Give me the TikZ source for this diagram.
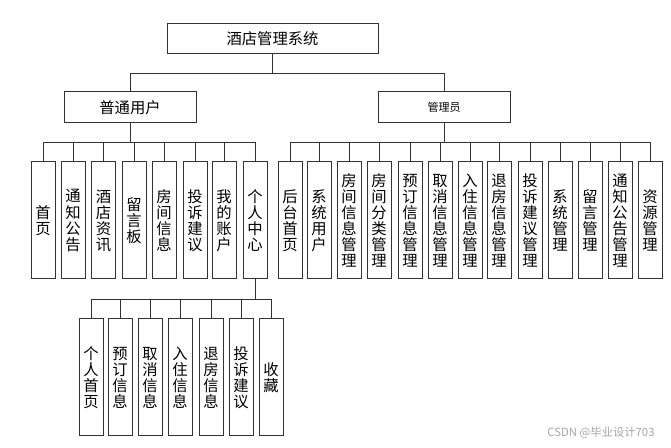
\documentclass[tikz,border=0pt]{standalone}
\usepackage{fontspec}
\newfontfamily\cjk{Noto Sans CJK SC}
\tikzset{
	box/.style={draw=black!80, line width=0.75pt, inner sep=0pt, align=center, font=\cjk\fontsize{11.5}{12}\selectfont},
	wide/.style={box, minimum width=99pt, minimum height=23.25pt},
	tall/.style={box, minimum width=18pt, minimum height=87.75pt},
	link/.style={draw=black!80, line width=0.75pt}
}

\begin{document}
\begin{tikzpicture}[x=0.75pt, y=-0.75pt]
		%%%%% START %%%%%
		\useasboundingbox[fill=white] (0, 0) rectangle (671, 448);
		
		\node[box, minimum width=158.25pt, minimum height=22.5pt] (root) at (272.5, 39) {酒店管理系统};
		
		\node[wide] (user) at (130, 107.5) {普通用户};
		\node[wide, font=\cjk\fontsize{8.25}{9}\selectfont] (admin) at (444, 107.5) {管理员};
		
		\draw[link] (root.south) -- ++(0, 19) -| (user.north);
		\draw[link] (root.south) -- ++(0, 19) -| (admin.north);
		
		\node[tall] (u1) at (43, 220.5) {首\\页};
		\node[tall] (u2) at (73, 220.5) {通\\知\\公\\告};
		\node[tall] (u3) at (103.5, 220.5) {酒\\店\\资\\讯};
		\node[tall] (u4) at (134, 220.5) {留\\言\\板};
		\node[tall] (u5) at (164, 220.5) {房\\间\\信\\息};
		\node[tall] (u6) at (195, 220.5) {投\\诉\\建\\议};
		\node[tall] (u7) at (224, 220.5) {我\\的\\账\\户};
		\node[tall] (u8) at (255, 220.5) {个\\人\\中\\心};
		
		\draw[link] (user.south) -- ++(0, 19) -| (u1.north);
		\draw[link] (user.south) -- ++(0, 19) -| (u2.north);
		\draw[link] (user.south) -- ++(0, 19) -| (u3.north);
		\draw[link] (user.south) -- ++(0, 19) -| (u4.north);
		\draw[link] (user.south) -- ++(0, 19) -| (u5.north);
		\draw[link] (user.south) -- ++(0, 19) -| (u6.north);
		\draw[link] (user.south) -- ++(0, 19) -| (u7.north);
		\draw[link] (user.south) -- ++(0, 19) -| (u8.north);
		
		\node[tall] (a1) at (290, 220.5) {后\\台\\首\\页};
		\node[tall] (a2) at (319, 220.5) {系\\统\\用\\户};
		\node[tall] (a3) at (349, 220.5) {房\\间\\信\\息\\管\\理};
		\node[tall] (a4) at (379, 220.5) {房\\间\\分\\类\\管\\理};
		\node[tall] (a5) at (410, 220.5) {预\\订\\信\\息\\管\\理};
		\node[tall] (a6) at (440, 220.5) {取\\消\\信\\息\\管\\理};
		\node[tall] (a7) at (470, 220.5) {入\\住\\信\\息\\管\\理};
		\node[tall] (a8) at (499, 220.5) {退\\房\\信\\息\\管\\理};
		\node[tall] (a9) at (530, 220.5) {投\\诉\\建\\议\\管\\理};
		\node[tall] (a10) at (560, 220.5) {系\\统\\管\\理};
		\node[tall] (a11) at (590, 220.5) {留\\言\\管\\理};
		\node[tall] (a12) at (620, 220.5) {通\\知\\公\\告\\管\\理};
		\node[tall] (a13) at (650, 220.5) {资\\源\\管\\理};
		
		\draw[link] (admin.south) -- ++(0, 19) -| (a1.north);
		\draw[link] (admin.south) -- ++(0, 19) -| (a2.north);
		\draw[link] (admin.south) -- ++(0, 19) -| (a3.north);
		\draw[link] (admin.south) -- ++(0, 19) -| (a4.north);
		\draw[link] (admin.south) -- ++(0, 19) -| (a5.north);
		\draw[link] (admin.south) -- ++(0, 19) -| (a6.north);
		\draw[link] (admin.south) -- ++(0, 19) -| (a7.north);
		\draw[link] (admin.south) -- ++(0, 19) -| (a8.north);
		\draw[link] (admin.south) -- ++(0, 19) -| (a9.north);
		\draw[link] (admin.south) -- ++(0, 19) -| (a10.north);
		\draw[link] (admin.south) -- ++(0, 19) -| (a11.north);
		\draw[link] (admin.south) -- ++(0, 19) -| (a12.north);
		\draw[link] (admin.south) -- ++(0, 19) -| (a13.north);
		
		\node[tall] (p1) at (91, 377.5) {个\\人\\首\\页};
		\node[tall] (p2) at (120, 377.5) {预\\订\\信\\息};
		\node[tall] (p3) at (150, 377.5) {取\\消\\信\\息};
		\node[tall] (p4) at (180, 377.5) {入\\住\\信\\息};
		\node[tall] (p5) at (211, 377.5) {退\\房\\信\\息};
		\node[tall] (p6) at (241, 377.5) {投\\诉\\建\\议};
		\node[tall] (p7) at (271, 377.5) {收\\藏};
		
		\draw[link] (u8.south) -- ++(0, 20) -| (p1.north);
		\draw[link] (u8.south) -- ++(0, 20) -| (p2.north);
		\draw[link] (u8.south) -- ++(0, 20) -| (p3.north);
		\draw[link] (u8.south) -- ++(0, 20) -| (p4.north);
		\draw[link] (u8.south) -- ++(0, 20) -| (p5.north);
		\draw[link] (u8.south) -- ++(0, 20) -| (p6.north);
		\draw[link] (u8.south) -- ++(0, 20) -| (p7.north);
		
		\node[font=\cjk\fontsize{8.5}{9}\selectfont, text=black!35] (mark) at (601, 433) {CSDN @毕业设计703};
		
		%%%%% END %%%%%
	\end{tikzpicture}
\end{document}
